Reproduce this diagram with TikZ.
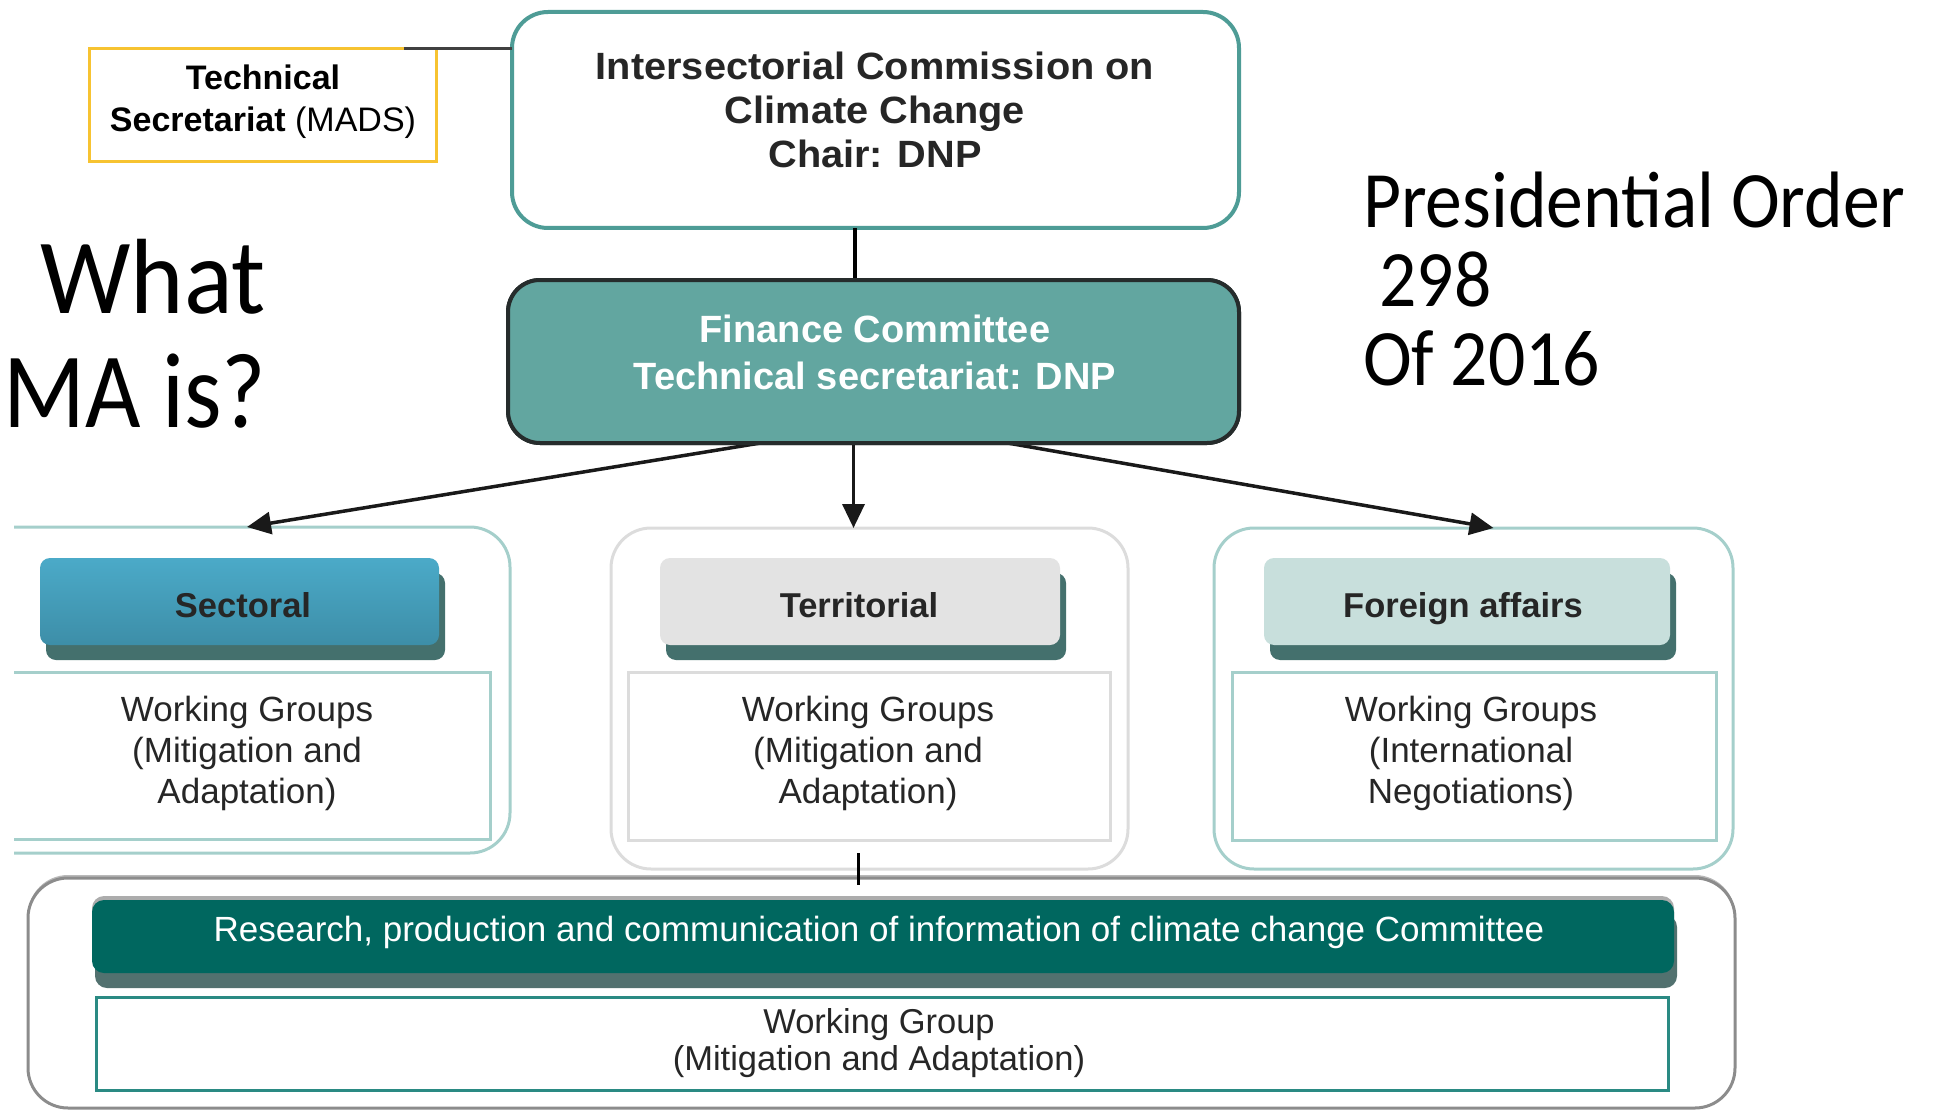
\documentclass[tikz,border=0pt]{standalone}
\usepackage{fontspec}
\setmainfont{Liberation Sans}
\newfontfamily\icsfont[FakeStretch=1.045]{Liberation Sans}
\newfontfamily\slidefont[FakeStretch=0.92]{Carlito}
\newfontfamily\askfont[FakeStretch=0.95]{Carlito}
\newfontfamily\asknarrow[FakeStretch=0.895]{Carlito}
\usetikzlibrary{arrows.meta,shadows}

\definecolor{icsborder}{HTML}{4E9C96}
\definecolor{finfill}{HTML}{62A6A0}
\definecolor{finborder}{HTML}{262C2C}
\definecolor{techyellow}{HTML}{F7C331}
\definecolor{sectop}{HTML}{4BAAC8}
\definecolor{secbot}{HTML}{3D8EA8}
\definecolor{terrfill}{HTML}{E3E3E3}
\definecolor{forfill}{HTML}{C8DFDC}
\definecolor{hdrshadow}{HTML}{44706D}
\definecolor{grpteal}{HTML}{A5CFCB}
\definecolor{grpgrey}{HTML}{DCDCDC}
\definecolor{botgrey}{HTML}{8C8C8C}
\definecolor{resfill}{HTML}{00675F}
\definecolor{resshadow}{HTML}{52716F}
\definecolor{wgteal}{HTML}{2A8A83}

\tikzset{
  box/.style={inner sep=0pt, outer sep=0pt},
  txt/.style={inner sep=0pt, outer sep=0pt, align=center},
  hdr/.style={box, rounded corners=10pt, minimum height=87pt,
    drop shadow={shadow xshift=6pt, shadow yshift=-15pt, fill=hdrshadow, opacity=1}},
  grp/.style={box, rounded corners=40pt, line width=3pt, fill=white},
  inbox/.style={box, line width=3pt, fill=white},
  finbox/.style={box, draw=finborder, line width=4pt, fill=finfill, rounded corners=32pt,
    minimum width=731pt, minimum height=163pt},
  link/.style={line width=3.5pt, draw=black!90, -{Triangle[length=24pt,width=22pt]}},
  hdrfont/.style={font=\bfseries\fontsize{34.5}{41}\selectfont},
  wgfont/.style={font=\fontsize{35}{41}\selectfont}
}

\begin{document}
\begin{tikzpicture}[x=1pt,y=-1pt]
\useasboundingbox (0,0) rectangle (1933,1110);

% slide texts
\node[txt, align=right, anchor=east, font=\askfont\fontsize{107}{114}\selectfont]
  (ask) at (266,347.2) {\strut What\\\strut{\asknarrow MA is?}};
\node[txt, align=left, anchor=west, font=\slidefont\fontsize{80}{79}\selectfont]
  (order) at (1363,290.2) {\strut Presidential Order\\\strut\ 298\\\strut Of 2016};

\begin{scope}
\clip (14,0) rectangle (1933,1110);

% top level
\node[box, draw=techyellow, line width=3pt, minimum width=347pt, minimum height=113pt]
  (tech) at (262.5,105.5) {};
\node[box, draw=icsborder, line width=4pt, rounded corners=36pt, fill=white,
  minimum width=727pt, minimum height=216pt] (ics) at (875.5,120) {};
\node[finbox] (fin) at (873.5,361.5) {};

% three working columns
\node[grp, draw=grpteal, minimum width=550pt, minimum height=326pt] (lgrp) at (235,690) {};
\node[grp, draw=grpgrey, minimum width=517pt, minimum height=341pt] (mgrp) at (869.5,698.5) {};
\node[grp, draw=grpteal, minimum width=519pt, minimum height=341pt] (rgrp) at (1473.5,698.5) {};

\node[hdr, top color=sectop, bottom color=secbot, minimum width=399pt] (sechdr) at (239.5,601.5) {};
\node[hdr, fill=terrfill, minimum width=400pt] (terrhdr) at (860,601.5) {};
\node[hdr, fill=forfill, minimum width=406pt] (forhdr) at (1467,601.5) {};

\node[inbox, draw=grpteal, minimum width=510pt, minimum height=167pt] (linner) at (235,755.5) {};
\node[inbox, draw=grpgrey, minimum width=482pt, minimum height=168pt] (minner) at (869,756) {};
\node[inbox, draw=grpteal, minimum width=484pt, minimum height=168pt] (rinner) at (1474,756) {};

% bottom committee
\node[grp, draw=botgrey, general shadow={shadow yshift=3pt, fill=gray!55},
  minimum width=1707pt, minimum height=230pt] (bgrp) at (881.5,993) {};
\node[box, fill=resfill, rounded corners=12pt, minimum width=1582pt, minimum height=73pt,
  general shadow={shadow yshift=4pt, fill=gray!65},
  drop shadow={shadow xshift=3pt, shadow yshift=-15pt, fill=resshadow, opacity=1}]
  (res) at (883,936.5) {};
\node[inbox, draw=wgteal, minimum width=1572pt, minimum height=93pt] (bwg) at (882,1043.5) {};

% connectors
\coordinate (bjoin) at ([yshift=-7pt]bgrp.north);
\coordinate (mjoin) at ([xshift=-11pt,yshift=16pt]mgrp.south);
\draw[line width=3pt, draw=black!75] ([xshift=-32pt]tech.north east) -- (tech.north east -| ics.west);
\draw[line width=4pt] ([xshift=-21pt]ics.south) -- ([xshift=-21pt]ics.south |- fin.south);
\draw[link] ([xshift=-113pt]fin.south) -- ([xshift=12pt]lgrp.north);
\draw[link] ([xshift=-20pt]fin.south) -- ([xshift=-20pt]fin.south |- mgrp.north);
\draw[link] ([xshift=134pt]fin.south) -- ([xshift=20pt]rgrp.north);
\draw[line width=2.5pt] (mjoin) -- (mjoin |- bjoin);
% finance box drawn again over the line coming from above
\node[finbox] (fincover) at (fin) {};

% labels
\node[txt, font=\bfseries\fontsize{34}{42}\selectfont] (techtxt) at (263,101.8)
  {\strut Technical\\\strut Secretariat {\mdseries(MADS)}};
\node[txt, font=\icsfont\bfseries\fontsize{38}{44}\selectfont, text=black!85] (icstxt) at (875,114.5)
  {\strut Intersectorial Commission on\\\strut Climate Change\\\strut Chair: DNP};
\node[txt, font=\bfseries\fontsize{38}{47}\selectfont, text=white] (fintxt) at (875,356.2)
  {\strut Finance Committee\\\strut Technical secretariat: DNP};

\node[txt, hdrfont, anchor=base, text=black!85] (sectxt) at (243,617) {Sectoral};
\node[txt, hdrfont, anchor=base, text=black!85] (terrtxt) at (859,617) {Territorial};
\node[txt, hdrfont, anchor=base, text=black!85] (fortxt) at (1463,617) {Foreign affairs};

\node[txt, wgfont, text=black!85] (lwgtxt) at (247,754.3)
  {\strut Working Groups\\\strut (Mitigation and\\\strut Adaptation)};
\node[txt, wgfont, text=black!85] (mwgtxt) at (868,754.3)
  {\strut Working Groups\\\strut (Mitigation and\\\strut Adaptation)};
\node[txt, wgfont, text=black!85] (rwgtxt) at (1471,754.3)
  {\strut Working Groups\\\strut (International\\\strut Negotiations)};

\node[txt, anchor=base, text=white, font=\fontsize{35}{41}\selectfont] (restxt) at (879,941)
  {Research, production and communication of information of climate change Committee};
\node[txt, text=black!85, font=\fontsize{34.5}{37}\selectfont] (bwgtxt) at (879,1044.6)
  {\strut Working Group\\\strut (Mitigation and Adaptation)};
\end{scope}
\end{tikzpicture}
\end{document}
